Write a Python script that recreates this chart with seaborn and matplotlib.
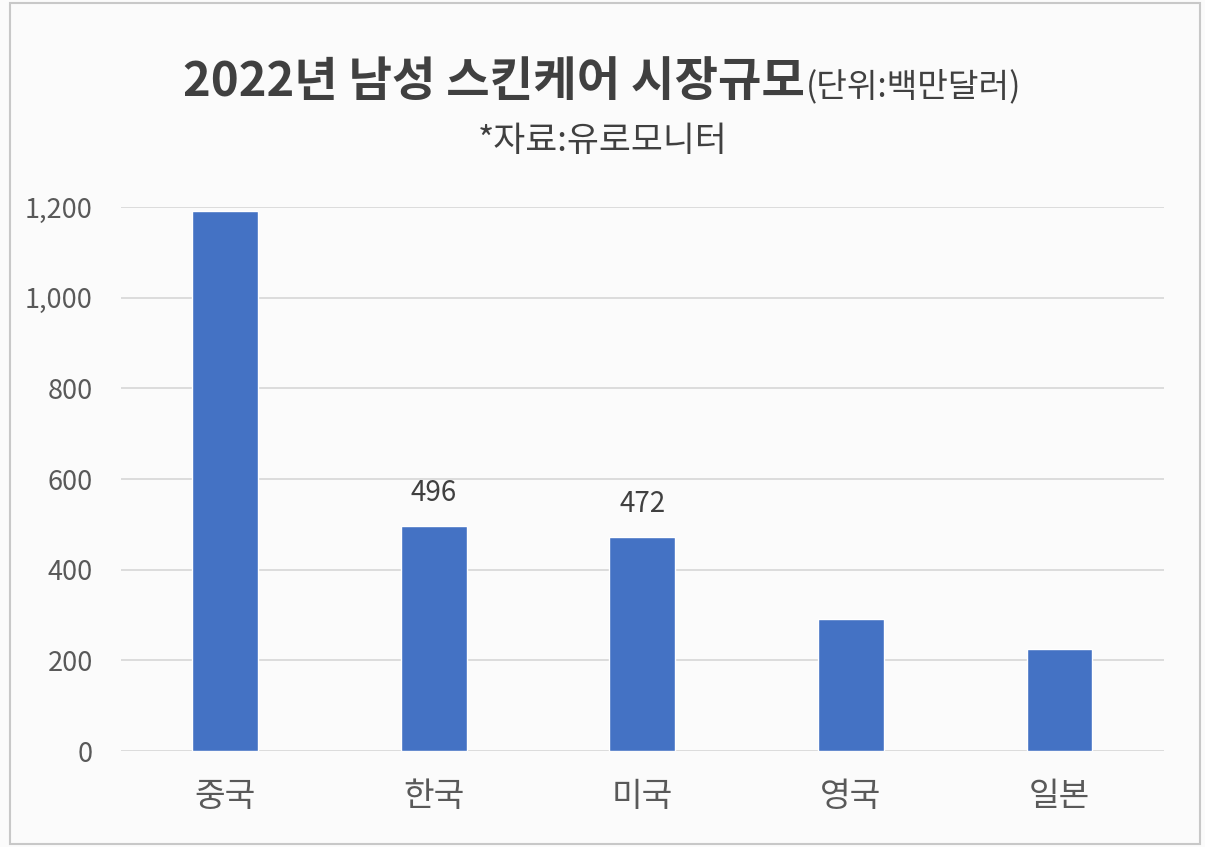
import matplotlib
matplotlib.use("Agg")
import matplotlib.pyplot as plt
import seaborn as sns
import pandas as pd
from matplotlib.patches import Rectangle
from matplotlib.ticker import FuncFormatter

countries = ["중국", "한국", "미국", "영국", "일본"]
values = [1192, 496, 472, 291, 226]
show_label = [False, True, True, False, False]
y_ticks = [0, 200, 400, 600, 800, 1000, 1200]

title_main = "2022년 남성 스킨케어 시장규모"
title_unit = "(단위:백만달러)"
subtitle = "*자료:유로모니터"

sns.set_theme(style="white")
plt.rcParams['font.family'] = ['Noto Sans CJK KR', 'DejaVu Sans']

df = pd.DataFrame({"country": countries, "value": values})

fig = plt.figure(figsize=(12.05, 8.47), dpi=100)
fig.patch.set_facecolor("#fbfbfb")
ax = fig.add_axes([0.1002, 0.1133, 0.8656, 0.6423])
ax.set_facecolor("#fbfbfb")

ax.set_axisbelow(True)
for t in y_ticks:
    ax.axhline(t, color="#d9d9d9", lw=1.3, zorder=0)

sns.barplot(data=df, x="country", y="value", color="#4472C4", width=0.315,
            saturation=1, ax=ax, zorder=2)

ax.set_xlim(-0.5, len(countries) - 0.5)
ax.set_ylim(0, 1200)
ax.set_yticks(y_ticks)
ax.yaxis.set_major_formatter(FuncFormatter(lambda v, p: f"{int(v):,}"))
ax.tick_params(axis="y", labelsize=19.5, colors="#595959", length=0, pad=20)
ax.tick_params(axis="x", labelsize=24, colors="#595959", length=0, pad=20)
ax.set_xlabel("")
ax.set_ylabel("")
for s in ax.spines.values():
    s.set_visible(False)

for i, (v, show) in enumerate(zip(values, show_label)):
    if show:
        ax.annotate(f"{v}", (i, v), xytext=(0, 13), textcoords="offset points",
                    ha="center", va="bottom", fontsize=20, color="#404040")

fig.text(0.668, 0.8867, title_main, ha="right", va="baseline", fontsize=34,
         fontweight="bold", color="#404040")
fig.text(0.669, 0.8867, title_unit, ha="left", va="baseline", fontsize=24,
         color="#404040")
fig.text(0.5, 0.822, subtitle, ha="center", va="baseline", fontsize=25,
         color="#404040")

fig.patches.append(Rectangle((0.008, 0.004), 0.988, 0.992, transform=fig.transFigure,
                             fill=False, edgecolor="#c8c8c8", lw=1.5))

fig.savefig("out.png", dpi=100, facecolor=fig.get_facecolor())
